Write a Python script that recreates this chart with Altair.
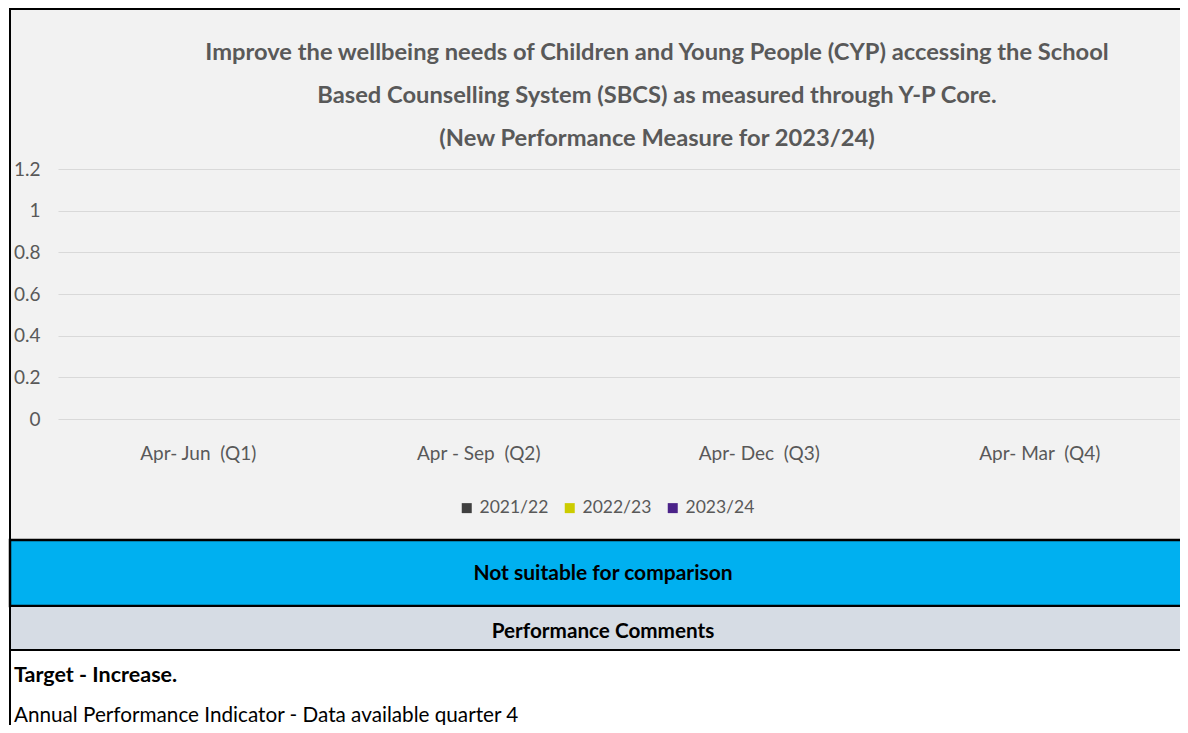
import altair as alt
import pandas as pd

FONT = "Lato"

quarters = ["Apr- Jun\u00a0 (Q1)", "Apr - Sep\u00a0 (Q2)", "Apr- Dec\u00a0 (Q3)", "Apr- Mar\u00a0 (Q4)"]
series = ["2021/22", "2022/23", "2023/24"]
series_colors = ["#404040", "#cccc00", "#4b2389"]
values_2021_22 = [None, None, None, None]
values_2022_23 = [None, None, None, None]
values_2023_24 = [None, None, None, None]
y_ticks = [0, 0.2, 0.4, 0.6, 0.8, 1, 1.2]

title_lines = [
    "Improve the wellbeing needs of Children and Young People (CYP) accessing the School",
    "Based Counselling System (SBCS) as measured through Y-P Core.",
    "(New Performance Measure for 2023/24)",
]
banner_text = "Not suitable for comparison"
comments_header = "Performance Comments"
comment_bold = "Target - Increase."
comment_text = "Annual Performance Indicator - Data available quarter 4"

rows = []
for s, vals in zip(series, [values_2021_22, values_2022_23, values_2023_24]):
    for q, v in zip(quarters, vals):
        rows.append({"quarter": q, "series": s, "value": v})
df = pd.DataFrame(rows)

one = pd.DataFrame({"k": [0]})

# decoration panels (frame, banner, comments)
chart_bg = alt.Chart(one).mark_rect(fill="#f2f2f2", stroke="black", strokeWidth=2).encode(
    x=alt.value(-48), x2=alt.value(1140), y=alt.value(-160), y2=alt.value(371))
banner = alt.Chart(one).mark_rect(fill="#00b0f0", stroke="black", strokeWidth=2.5).encode(
    x=alt.value(-48), x2=alt.value(1140), y=alt.value(371), y2=alt.value(437))
comments_bar = alt.Chart(one).mark_rect(fill="#d6dce4", stroke="black", strokeWidth=2).encode(
    x=alt.value(-48), x2=alt.value(1140), y=alt.value(437), y2=alt.value(481))
comments_box = alt.Chart(one).mark_rect(fill="white", stroke="black", strokeWidth=2).encode(
    x=alt.value(-48), x2=alt.value(1140), y=alt.value(481), y2=alt.value(600))

title_t = alt.Chart(one).mark_text(
    font=FONT, fontSize=23.7, fontWeight="bold", color="#595959", align="center",
    baseline="middle", lineHeight=43
).encode(text=alt.value(title_lines), x=alt.value(599), y=alt.value(-116))

banner_t = alt.Chart(pd.DataFrame({"t": [banner_text]})).mark_text(
    font=FONT, fontSize=21, fontWeight="bold", color="black", align="center", baseline="middle"
).encode(text="t:N", x=alt.value(545), y=alt.value(405))
header_t = alt.Chart(pd.DataFrame({"t": [comments_header]})).mark_text(
    font=FONT, fontSize=20.7, fontWeight="bold", color="black", align="center", baseline="middle"
).encode(text="t:N", x=alt.value(545), y=alt.value(463))
bold_t = alt.Chart(pd.DataFrame({"t": [comment_bold]})).mark_text(
    font=FONT, fontSize=21.5, fontWeight="bold", color="black", align="left", baseline="middle"
).encode(text="t:N", x=alt.value(-44), y=alt.value(507))
plain_t = alt.Chart(pd.DataFrame({"t": [comment_text]})).mark_text(
    font=FONT, fontSize=20.7, color="black", align="left", baseline="middle"
).encode(text="t:N", x=alt.value(-44), y=alt.value(547))

bars = alt.Chart(df).mark_bar().encode(
    x=alt.X("quarter:N", sort=quarters,
            scale=alt.Scale(domain=quarters, paddingInner=0.2, paddingOuter=0.1),
            axis=alt.Axis(title=None, labelAngle=0, domain=False, ticks=False, labelPadding=25,
                          labelFont=FONT, labelFontSize=19, labelColor="#595959", zindex=1)),
    xOffset=alt.XOffset("series:N", sort=series, scale=alt.Scale(domain=series)),
    y=alt.Y("value:Q", scale=alt.Scale(domain=[0, 1.2]),
            axis=alt.Axis(title=None, values=y_ticks, format="~g", domain=False, ticks=False,
                          labelPadding=18, labelFont=FONT, labelFontSize=19, labelColor="#595959",
                          gridColor="#d9d9d9", gridWidth=1, zindex=1)),
    color=alt.Color("series:N", sort=series,
                    scale=alt.Scale(domain=series, range=series_colors),
                    legend=alt.Legend(title=None, orient="none", legendX=400, legendY=330,
                                      direction="horizontal", symbolType="square", symbolSize=100,
                                      symbolStrokeWidth=0, labelFont=FONT, labelFontSize=17.5,
                                      labelColor="#595959", columnPadding=12, labelOffset=4,
                                      padding=0, zindex=1)),
)

chart = alt.layer(
    chart_bg, banner, comments_bar, comments_box, title_t, banner_t, header_t, bold_t, plain_t, bars
).properties(
    width=1122, height=250,
    padding={"left": 50, "top": 161, "right": 0, "bottom": 306},
    autosize=alt.AutoSizeParams(type="none"),
    background="white",
).configure_view(stroke=None)

chart.save("out.html", embed_options={"renderer": "svg", "actions": False})
